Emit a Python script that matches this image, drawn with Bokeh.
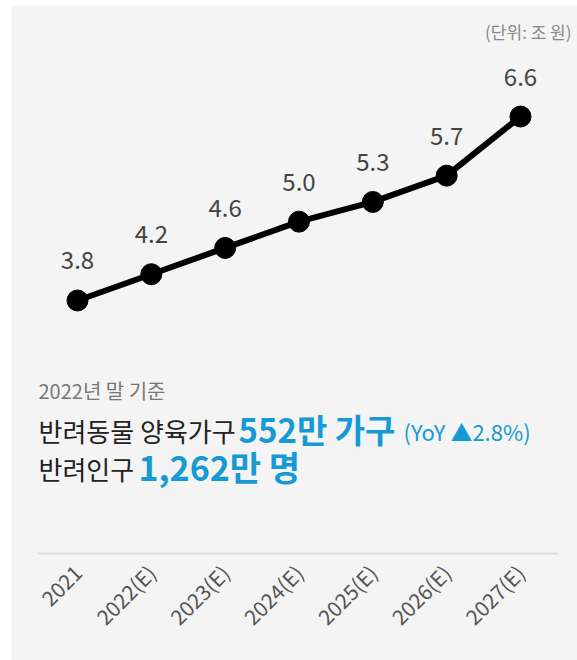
from bokeh.plotting import figure
from bokeh.models import Range1d, Label, ColumnDataSource, FixedTicker
from bokeh.core.properties import value
from bokeh.embed import file_html
from bokeh.resources import INLINE
import math

# ---- data ----
years = ["2021", "2022(E)", "2023(E)", "2024(E)", "2025(E)", "2026(E)", "2027(E)"]
market = [3.8, 4.2, 4.6, 5.0, 5.3, 5.7, 6.6]
market_labels = [f"{v:.1f}" for v in market]
unit_text = "(단위: 조 원)"
basis_text = "2022년 말 기준"
household_label = "반려동물 양육가구"
household_value = "552만 가구"
household_yoy = "(YoY ▲2.8%)"
people_label = "반려인구"
people_value = "1,262만 명"

FONT = "Noto Sans CJK KR"
BG = "#f4f4f4"
BLUE = "#159ad5"

idx = list(range(len(years)))
src = ColumnDataSource(dict(x=idx, y=market, t=market_labels))

p = figure(width=566, height=655,
           x_range=Range1d(-0.894, 6.772), y_range=Range1d(-0.051, 8.29),
           output_backend="svg", toolbar_location=None,
           min_border_left=0, min_border_right=0, min_border_top=0,
           min_border_bottom=107)
p.margin = (5, 0, 0, 11)
p.background_fill_color = BG
p.border_fill_color = BG
p.outline_line_color = None
p.grid.visible = False
p.yaxis.visible = False

ax = p.xaxis[0]
ax.ticker = FixedTicker(ticks=idx)
ax.major_label_overrides = {i: y for i, y in zip(idx, years)}
ax.bounds = (-0.542, 6.501)
ax.axis_line_color = "#dcdcdc"
ax.axis_line_width = 2
ax.major_tick_line_color = None
ax.minor_tick_line_color = None
ax.major_label_orientation = math.pi / 4
ax.major_label_text_font = FONT
ax.major_label_text_font_size = "21px"
ax.major_label_text_color = "#555555"
ax.major_label_standoff = 9

p.line("x", "y", source=src, line_width=6, line_color="black")
p.scatter("x", "y", source=src, size=21, fill_color="black", line_color="black")
p.text("x", "y", text="t", source=src, text_align="center", text_baseline="middle",
       y_offset=-40, text_font=value(FONT), text_font_size="24px", text_color="#444444")

# screen-unit labels (relative to frame bottom-left: page x - 11, 553 - page y)
def lab(text, px, py, size, color, bold=False, align="left"):
    p.add_layout(Label(x=px - 11, y=553 - py, x_units="screen", y_units="screen",
                       text=text, text_font=FONT, text_font_size=size,
                       text_color=color, text_font_style="bold" if bold else "normal",
                       text_align=align, text_baseline="middle"))

lab(unit_text, 571, 31, "17px", "#888888", align="right")
lab(basis_text, 38, 390, "20px", "#777777")
lab(household_label, 38, 430, "26px", "#222222")
lab(household_value, 238, 428, "33px", BLUE, bold=True)
lab(household_yoy, 403, 430, "22px", BLUE)
lab(people_label, 38, 468, "26px", "#222222")
lab(people_value, 138, 466, "34px", BLUE, bold=True)

open("out.html", "w").write(file_html(p, INLINE))
